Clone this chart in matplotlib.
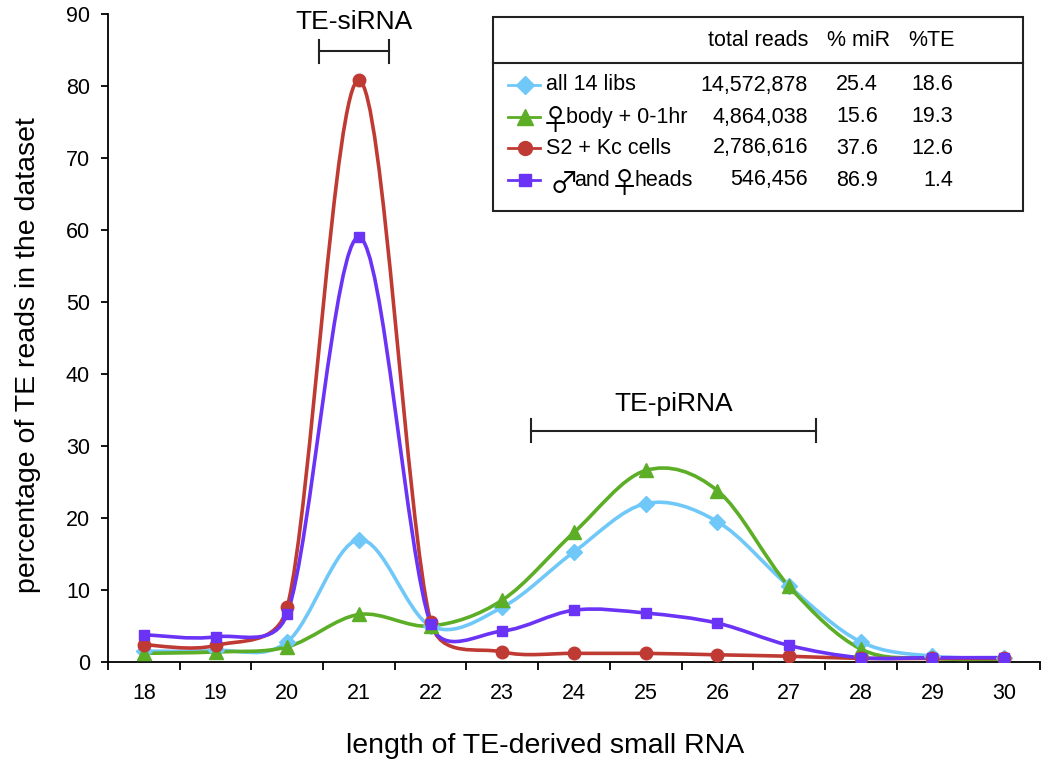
import numpy as np
import matplotlib.pyplot as plt
from matplotlib.path import Path
from matplotlib.patches import PathPatch, Rectangle
from matplotlib.lines import Line2D

plt.rcParams['font.family'] = ['Liberation Sans', 'DejaVu Sans']

lengths = [18, 19, 20, 21, 22, 23, 24, 25, 26, 27, 28, 29, 30]
all_libs = [1.5, 1.6, 2.8, 17.0, 5.0, 7.6, 15.3, 22.0, 19.5, 10.5, 2.8, 0.8, 0.6]
female_body = [1.2, 1.4, 2.1, 6.6, 5.0, 8.6, 18.0, 26.6, 23.8, 10.5, 1.8, 0.5, 0.4]
s2_kc = [2.4, 2.3, 7.6, 80.8, 5.6, 1.4, 1.2, 1.2, 1.0, 0.8, 0.5, 0.5, 0.5]
heads = [3.8, 3.5, 6.7, 59.0, 5.3, 4.3, 7.2, 6.8, 5.4, 2.3, 0.6, 0.6, 0.6]

# legend rows: pieces of (text, is_symbol, x in axes fraction)
label_parts = [
    [('all 14 libs', False, 0.470)],
    [('\u2640', True, 0.480), ('body + 0-1hr', False, 0.4915)],
    [('S2 + Kc cells', False, 0.470)],
    [('\u2642', True, 0.489), ('and', False, 0.5005), ('\u2640', True, 0.554), ('heads', False, 0.5650)],
]
total_reads = ['14,572,878', '4,864,038', '2,786,616', '546,456']
pct_mir = ['25.4', '15.6', '37.6', '86.9']
pct_te = ['18.6', '19.3', '12.6', '1.4']

colors = ['#70C8F8', '#5BAE26', '#C03A34', '#6A33F5']
markers = ['D', '^', 'o', 's']
msizes = [8, 10, 9, 7]
series = [all_libs, female_body, s2_kc, heads]

SX, SY = 71.5, 7.22  # pixels per data unit


def smooth_path(x, y):
    # excel style smoothed line, control arms limited to half the neighbour segment
    p = np.column_stack([np.array(x) * SX, np.array(y) * SY]).astype(float)
    n = len(p)
    out_arm = np.zeros_like(p)
    in_arm = np.zeros_like(p)
    for i in range(n):
        a = p[max(i - 1, 0)]
        c = p[min(i + 1, n - 1)]
        d02 = np.hypot(*(c - a))
        if d02 == 0:
            continue
        u = (c - a) / d02
        d01 = np.hypot(*(p[i] - a))
        d12 = np.hypot(*(c - p[i]))
        arm_in = min(d02 / 6, d01 / 2) if i > 0 else 0
        arm_out = min(d02 / 6, d12 / 2) if i < n - 1 else 0
        in_arm[i] = -u * arm_in
        out_arm[i] = u * arm_out
    verts = [p[0]]
    codes = [Path.MOVETO]
    for i in range(n - 1):
        verts += [p[i] + out_arm[i], p[i + 1] + in_arm[i + 1], p[i + 1]]
        codes += [Path.CURVE4] * 3
    verts = np.array(verts) / [SX, SY]
    return Path(verts, codes)


fig = plt.figure(figsize=(10.5, 7.71), dpi=100)
ax = fig.add_axes([108 / 1050, 1 - 662 / 771, 932 / 1050, 648 / 771])

for vals, col, mk, ms in zip(series, colors, markers, msizes):
    ax.add_patch(PathPatch(smooth_path(lengths, vals), fill=False, edgecolor=col, lw=2.6, zorder=3))
    ax.plot(lengths, vals, ls='none', marker=mk, ms=ms, color=col, zorder=4)

ax.set_xlim(17.5, 30.5)
ax.set_ylim(0, 90)
ax.set_yticks(range(0, 91, 10))
ax.set_xticks(lengths)
ax.set_xticks(np.arange(17.5, 30.6, 1), minor=True)
ax.tick_params(axis='x', which='major', length=0, pad=15, labelsize=15.5)
ax.tick_params(axis='x', which='minor', length=6, width=1.3, direction='out')
ax.tick_params(axis='y', length=5, width=1.3, labelsize=15.5, pad=8)
for s in ['top', 'right']:
    ax.spines[s].set_visible(False)
for s in ['left', 'bottom']:
    ax.spines[s].set_linewidth(1.3)

ax.set_xlabel('length of TE-derived small RNA', fontsize=20.5)
ax.xaxis.set_label_coords((545 - 108) / 932, (662 - 746) / 648)
ax.xaxis.label.set_va('center')
ax.set_ylabel('percentage of TE reads in the dataset', fontsize=20.5)
ax.yaxis.set_label_coords((28 - 108) / 932, (662 - 355) / 648)
ax.yaxis.label.set_va('center')


# brackets
def bracket(x0, x1, y, h, text, ty):
    ax.plot([x0, x1], [y, y], color='#222222', lw=1.5, clip_on=False)
    ax.plot([x0, x0], [y - h, y + h], color='#222222', lw=1.5, clip_on=False)
    ax.plot([x1, x1], [y - h, y + h], color='#222222', lw=1.5, clip_on=False)
    ax.text((x0 + x1) / 2, ty, text, ha='center', va='center', fontsize=19)


bracket(20.45, 21.42, 84.8, 1.6, 'TE-siRNA', 88.9)
bracket(23.4, 27.38, 32.1, 1.6, 'TE-piRNA', 35.9)

# legend table
tr = ax.transAxes
x_l, x_r = (493 - 108) / 932, (1023 - 108) / 932


def ay(py):
    return (662 - py) / 648


ax.add_patch(Rectangle((x_l, ay(211)), x_r - x_l, ay(17) - ay(211), transform=tr, fill=True,
                       facecolor='white', edgecolor='#222222', lw=1.5, zorder=5))
ax.add_line(Line2D([x_l, x_r], [ay(63), ay(63)], transform=tr, color='#222222', lw=1.5, zorder=6))


def ax_x(px):
    return (px - 108) / 932


hy = ay(40)
ax.text(ax_x(808), hy, 'total reads', transform=tr, ha='right', va='center', fontsize=15.5, zorder=6)
ax.text(ax_x(890), hy, '% miR', transform=tr, ha='right', va='center', fontsize=15.5, zorder=6)
ax.text(ax_x(955), hy, '%TE', transform=tr, ha='right', va='center', fontsize=15.5, zorder=6)
rows_py = [85, 117, 148, 180]
for i in range(4):
    ry = ay(rows_py[i])
    ax.add_line(Line2D([ax_x(508), ax_x(540)], [ry, ry], transform=tr, color=colors[i], lw=2, zorder=6))
    ax.add_line(Line2D([ax_x(525)], [ry], transform=tr, color=colors[i], marker=markers[i],
                       ms=msizes[i] + 1, zorder=7))
    for txt, is_sym, px in label_parts[i]:
        if is_sym:
            ax.text(px, ry - 0.007, txt, transform=tr, ha='center', va='center', fontsize=21,
                    family=['Noto Sans CJK JP', 'DejaVu Sans'], zorder=6)
        else:
            ax.text(px, ry, txt, transform=tr, ha='left', va='center', fontsize=15.5, zorder=6)
    ax.text(ax_x(808), ry, total_reads[i], transform=tr, ha='right', va='center', fontsize=15.5, zorder=6)
    ax.text(ax_x(878), ry, pct_mir[i], transform=tr, ha='right', va='center', fontsize=15.5, zorder=6)
    ax.text(ax_x(953), ry, pct_te[i], transform=tr, ha='right', va='center', fontsize=15.5, zorder=6)

fig.savefig('out.png', dpi=100)
